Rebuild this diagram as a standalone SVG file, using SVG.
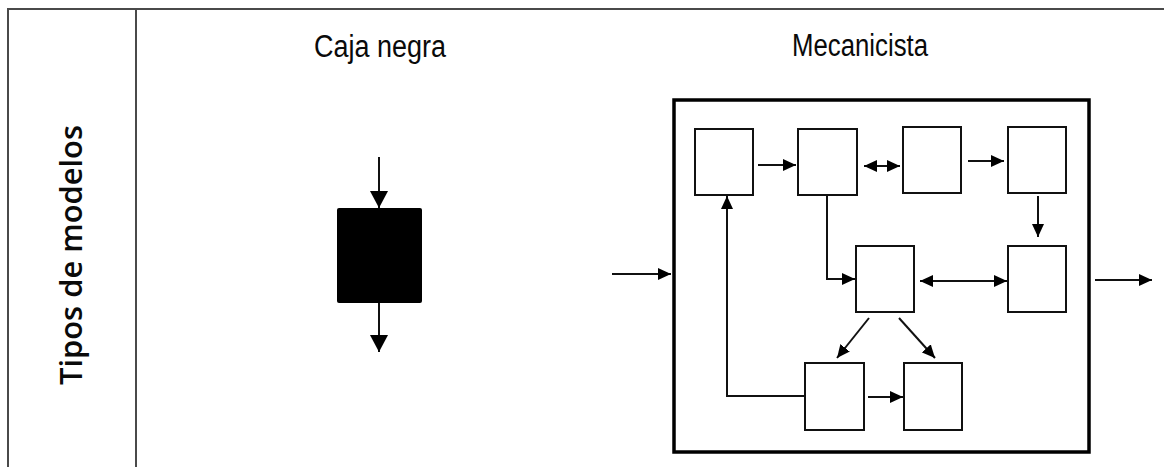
<svg xmlns="http://www.w3.org/2000/svg" width="1164" height="467" viewBox="0 0 1164 467">
  <style>
    .tbl { stroke: #4a4a4a; stroke-width: 2; fill: none; }
    .box { fill: #fff; stroke: #111; stroke-width: 2; }
    .outer { fill: none; stroke: #000; stroke-width: 3.5; }
    .ln { fill: none; stroke: #111; stroke-width: 2; }
    .title { font-family: "Liberation Sans", Arial, sans-serif; font-size: 31px; fill: #0a0a0a; }
    .side { font-family: "Open Sans", "Liberation Sans", Arial, sans-serif; font-size: 31px; font-weight: 600; fill: #0a0a0a; }
  </style>
  <defs>
    <marker id="ah" markerUnits="userSpaceOnUse" markerWidth="13" markerHeight="12" refX="13" refY="6" orient="auto-start-reverse">
      <path d="M0,0 L13,6 L0,12 z" fill="#000"/>
    </marker>
    <marker id="ahBig" markerUnits="userSpaceOnUse" markerWidth="17" markerHeight="18" refX="17" refY="9" orient="auto-start-reverse">
      <path d="M0,0 L17,9 L0,18 z" fill="#000"/>
    </marker>
  </defs>
  <rect width="1164" height="467" fill="#fff"/>

  <g id="table">
    <line class="tbl" x1="7" y1="9" x2="1164" y2="9"/>
    <line class="tbl" x1="8" y1="9" x2="8" y2="467"/>
    <line class="tbl" x1="136" y1="9" x2="136" y2="467"/>
  </g>

  <g id="labels">
    <text class="title" x="380" y="57" text-anchor="middle" textLength="132" lengthAdjust="spacingAndGlyphs">Caja negra</text>
    <text class="title" x="860" y="56" text-anchor="middle" textLength="136" lengthAdjust="spacingAndGlyphs">Mecanicista</text>
    <text class="side" transform="translate(82,255) rotate(-90)" x="0" y="0" text-anchor="middle" textLength="260" lengthAdjust="spacingAndGlyphs">Tipos de modelos</text>
  </g>

  <g id="black-box">
    <rect x="337" y="208" width="85" height="95" rx="2" fill="#000"/>
  </g>

  <g id="mechanistic-frame">
    <rect class="outer" x="674" y="100" width="415" height="352"/>
  </g>
  <g id="n1"><rect class="box" x="695" y="129" width="58" height="66"/></g>
  <g id="n2"><rect class="box" x="798" y="129" width="59" height="66"/></g>
  <g id="n3"><rect class="box" x="903" y="127" width="58" height="66"/></g>
  <g id="n4"><rect class="box" x="1008" y="127" width="58" height="66"/></g>
  <g id="n5"><rect class="box" x="856" y="246" width="58" height="66"/></g>
  <g id="n6"><rect class="box" x="1008" y="246" width="58" height="66"/></g>
  <g id="n7"><rect class="box" x="805" y="363" width="59" height="67"/></g>
  <g id="n8"><rect class="box" x="904" y="363" width="58" height="67"/></g>

  <g id="connectors">
    <line class="ln" x1="379" y1="157" x2="379" y2="208" marker-end="url(#ahBig)"/>
    <line class="ln" x1="379" y1="303" x2="379" y2="352" marker-end="url(#ahBig)"/>
    <line class="ln" x1="612" y1="274" x2="671" y2="274" marker-end="url(#ah)"/>
    <line class="ln" x1="1095" y1="280" x2="1152" y2="280" marker-end="url(#ah)"/>
    <line class="ln" x1="758" y1="165" x2="796" y2="165" marker-end="url(#ah)"/>
    <line class="ln" x1="864" y1="166" x2="900" y2="166" marker-start="url(#ah)" marker-end="url(#ah)"/>
    <line class="ln" x1="968" y1="161" x2="1004" y2="161" marker-end="url(#ah)"/>
    <line class="ln" x1="1038" y1="196" x2="1038" y2="237" marker-end="url(#ah)"/>
    <path class="ln" d="M827,195 V279 H855" marker-end="url(#ah)"/>
    <line class="ln" x1="920" y1="281" x2="1007" y2="281" marker-start="url(#ah)" marker-end="url(#ah)"/>
    <line class="ln" x1="869" y1="318" x2="837" y2="358" marker-end="url(#ah)"/>
    <line class="ln" x1="899" y1="318" x2="935" y2="358" marker-end="url(#ah)"/>
    <line class="ln" x1="868" y1="397" x2="903" y2="397" marker-end="url(#ah)"/>
    <path class="ln" d="M805,396 H727 V196" marker-end="url(#ah)"/>
  </g>
</svg>
